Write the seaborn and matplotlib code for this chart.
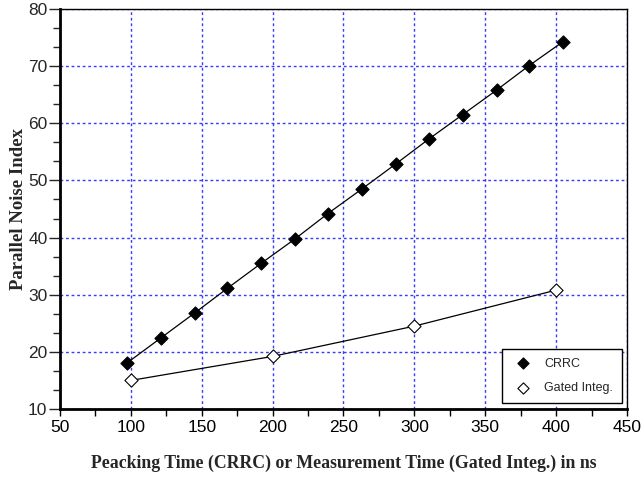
import seaborn as sns
import matplotlib.pyplot as plt
from matplotlib.ticker import MultipleLocator, AutoMinorLocator

# CRRC peaking times (ns) and parallel noise index
crrc_time = [97, 121, 145, 168, 192, 216, 239, 263, 287, 310, 334, 358, 381, 405]
crrc_noise = [18.0, 22.4, 26.8, 31.1, 35.5, 39.8, 44.2, 48.5, 52.9, 57.2, 61.5, 65.8, 70.1, 74.3]

# Gated integrator measurement times (ns)
gated_time = [100, 200, 300, 400]
gated_noise = [15.0, 19.2, 24.5, 30.8]

sns.set_style("ticks")
plt.rcParams['font.family'] = ['Liberation Sans', 'DejaVu Sans']

fig = plt.figure(figsize=(6.41, 4.78), dpi=100)
ax = fig.add_axes([0.0936, 0.1444, 0.8845, 0.8368])

# connecting lines
sns.lineplot(x=crrc_time, y=crrc_noise, color='black', lw=0.9, ax=ax, sort=False)
sns.lineplot(x=gated_time, y=gated_noise, color='black', lw=0.9, ax=ax, sort=False)

# markers
sns.scatterplot(x=crrc_time, y=crrc_noise, marker='D', s=45, color='black',
                edgecolor='black', linewidth=0.8, label='CRRC', ax=ax, zorder=3)
sns.scatterplot(x=gated_time, y=gated_noise, marker='D', s=45, color='white',
                edgecolor='black', linewidth=0.8, label='Gated Integ.', ax=ax, zorder=3)

ax.set_xlim(50, 450)
ax.set_ylim(10, 80)
ax.xaxis.set_major_locator(MultipleLocator(50))
ax.xaxis.set_minor_locator(AutoMinorLocator(2))
ax.yaxis.set_major_locator(MultipleLocator(10))
ax.yaxis.set_minor_locator(AutoMinorLocator(3))

ax.grid(True, which='major', color='#3a3aff', linestyle=(0, (2, 2)), linewidth=1.0)
ax.set_axisbelow(True)

ax.tick_params(axis='x', which='both', direction='out', length=5, width=1,
               labelsize=12.5, pad=3, colors='black')
ax.tick_params(axis='y', which='major', direction='out', length=8, width=1,
               labelsize=12.5, pad=1)
ax.tick_params(axis='y', which='minor', direction='out', length=5, width=1)

for side in ['left', 'bottom']:
    ax.spines[side].set_linewidth(2)
    ax.spines[side].set_color('black')
for side in ['top', 'right']:
    ax.spines[side].set_linewidth(1)
    ax.spines[side].set_color('black')

ax.set_xlabel('Peacking Time (CRRC) or Measurement Time (Gated Integ.) in ns',
              family='Liberation Serif', fontweight='bold', fontsize=12.8)
ax.xaxis.set_label_coords(0.5, -0.115)
ax.set_ylabel('Parallel Noise Index', family='Liberation Serif', fontweight='bold',
              fontsize=13.5)
ax.yaxis.set_label_coords(-0.058, 0.5)

leg = ax.legend(loc='lower right', bbox_to_anchor=(0.991, 0.015), borderaxespad=0,
                fancybox=False, framealpha=1, edgecolor='black', fontsize=9,
                handletextpad=0.7, borderpad=0.7, labelspacing=1.0, markerscale=0.85)
leg.get_frame().set_linewidth(1)

fig.savefig('out.png', dpi=100)
